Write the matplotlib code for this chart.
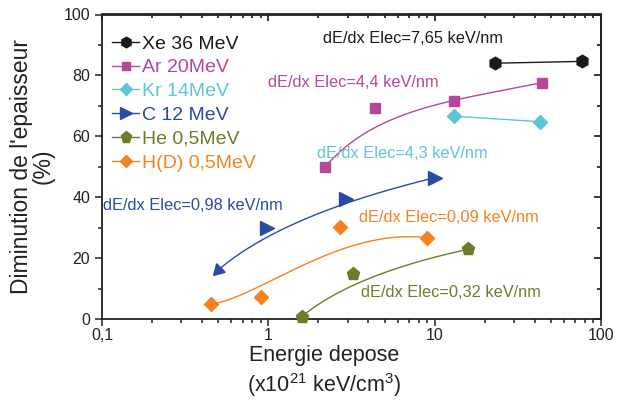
"""Thickness decrease vs deposited energy for several ions (log x)."""

from math import comb

import matplotlib

matplotlib.use("Agg")

import matplotlib.pyplot as plt
import numpy as np
from matplotlib.lines import Line2D
from matplotlib.ticker import FuncFormatter, MultipleLocator

plt.rcParams["font.family"] = ["Liberation Sans", "DejaVu Sans"]
plt.rcParams["mathtext.fontset"] = "custom"
plt.rcParams["mathtext.rm"] = "Liberation Sans"
plt.rcParams["mathtext.it"] = "Liberation Sans:italic"

# energie deposee (x1e21 keV/cm3) / diminution de l'epaisseur (%)
xe_x = [23.0, 77.0]
xe_y = [84.0, 84.6]
ar_x = [2.2, 4.4, 13.1, 44.0]
ar_y = [50.0, 69.2, 71.7, 77.6]
kr_x = [13.1, 43.0]
kr_y = [66.6, 64.8]
c_x = [0.50, 0.98, 2.95, 10.0]
c_y = [16.1, 29.8, 39.3, 46.4]
he_x = [1.59, 3.22, 15.9]
he_y = [0.8, 14.7, 22.9]
h_x = [0.45, 0.90, 2.70, 9.04]
h_y = [4.8, 7.3, 30.1, 26.7]

labels = ["Xe 36 MeV", "Ar 20MeV", "Kr 14MeV", "C 12 MeV", "He 0,5MeV", "H(D) 0,5MeV"]
notes = [
    "dE/dx Elec=7,65 keV/nm",
    "dE/dx Elec=4,4 keV/nm",
    "dE/dx Elec=4,3 keV/nm",
    "dE/dx Elec=0,98 keV/nm",
    "dE/dx Elec=0,09 keV/nm",
    "dE/dx Elec=0,32 keV/nm",
]

XE, AR, KR, C, HE, H = "#1a1a1a", "#b5479b", "#5ec5d6", "#2a4ba3", "#717a2b", "#f5821f"


def bspline(xs, ys, n=200):
    """Bezier curve using the points as control points (log x), like Origin's B-spline."""
    lx = np.log10(xs)
    ys = np.asarray(ys, dtype=float)
    k = len(lx) - 1
    t = np.linspace(0, 1, n)
    bx = np.zeros(n)
    by = np.zeros(n)
    for i in range(k + 1):
        w = comb(k, i) * t**i * (1 - t) ** (k - i)
        bx += w * lx[i]
        by += w * ys[i]
    return 10**bx, by


fig = plt.figure(figsize=(6.17, 4.05), dpi=100)
ax = fig.add_axes([102 / 617, 1 - 319 / 405, 499 / 617, 304.5 / 405])

lw = 1.0
series = [
    (xe_x, xe_y, XE, "h", 9),
    (ar_x, ar_y, AR, "s", 7),
    (kr_x, kr_y, KR, "D", 7.5),
    (c_x, c_y, C, ">", 10),
    (he_x, he_y, HE, "p", 9.5),
    (h_x, h_y, H, "D", 7.5),
]
for xs, ys, col, mk, ms in series:
    bx, by = bspline(xs, ys)
    ax.plot(bx, by, color=col, lw=lw, zorder=2, clip_on=False)
    if mk == ">":
        ax.plot(xs[1:], ys[1:], ls="none", marker=mk, ms=ms, color=col, mec=col, zorder=3)
        ax.plot(xs[:1], ys[:1], ls="none", marker=(3, 0, 135), ms=ms, color=col, mec=col, zorder=3)
    else:
        ax.plot(xs, ys, ls="none", marker=mk, ms=ms, color=col, mec=col, zorder=3, clip_on=False)

note_pos = [(2.13, 92.2), (0.995, 77.6), (1.95, 54.2), (0.1014, 37.2), (3.53, 33.4), (3.59, 8.6)]
note_col = [XE, AR, KR, C, H, HE]
for txt, (tx, ty), col in zip(notes, note_pos, note_col):
    ax.text(tx, ty, txt, color=col, fontsize=11.8, ha="left", va="center")

handles = [
    Line2D([], [], color=col, marker=mk, ms=ms * 0.85, lw=lw)
    for (_, _, col, mk, ms) in series
]
leg = ax.legend(
    handles, labels, loc="upper left", bbox_to_anchor=(112 / 617, 1 - 35 / 405),
    bbox_transform=fig.transFigure, frameon=False, fontsize=14, handlelength=1.4,
    handletextpad=0.15, labelspacing=0.32, borderpad=0, borderaxespad=0,
)
for txt, (_, _, col, _, _) in zip(leg.get_texts(), series):
    txt.set_color(col)

ax.set_xscale("log")
ax.set_xlim(0.1, 100)
ax.set_ylim(0, 100)
ax.yaxis.set_major_locator(MultipleLocator(20))
ax.yaxis.set_minor_locator(MultipleLocator(10))
ax.xaxis.set_major_formatter(FuncFormatter(lambda v, p: f"{v:g}".replace(".", ",")))
ax.tick_params(which="both", direction="out", top=False, right=False, labelsize=11.5,
               colors="#222222", width=1.1)
ax.tick_params(which="major", length=5)
ax.tick_params(which="minor", length=3)
ax.tick_params(axis="x", pad=1.5)

top = ax.secondary_xaxis("top")
top.tick_params(which="both", direction="in", labeltop=False, width=1.1)
top.tick_params(which="major", length=5)
top.tick_params(which="minor", length=3)
right = ax.secondary_yaxis("right")
right.yaxis.set_major_locator(MultipleLocator(20))
right.yaxis.set_minor_locator(MultipleLocator(10))
right.tick_params(which="both", direction="in", labelright=False, width=1.1)
right.tick_params(which="major", length=5)
right.tick_params(which="minor", length=3)
for a in (ax, top, right):
    for sp in a.spines.values():
        sp.set_linewidth(1.3)
        sp.set_color("#222222")

ax.set_ylabel("Diminution de l'epaisseur\n(%)", fontsize=16.5, color="#222222", linespacing=0.95)
ax.yaxis.set_label_coords(-0.094, 0.5)
ax.set_xlabel("Energie depose\n(x10$^{21}$ keV/cm$^{3}$)", fontsize=15.5, color="#222222",
              linespacing=1.25)
ax.xaxis.set_label_coords(0.445, -0.085)

fig.savefig("out.png", dpi=100)
